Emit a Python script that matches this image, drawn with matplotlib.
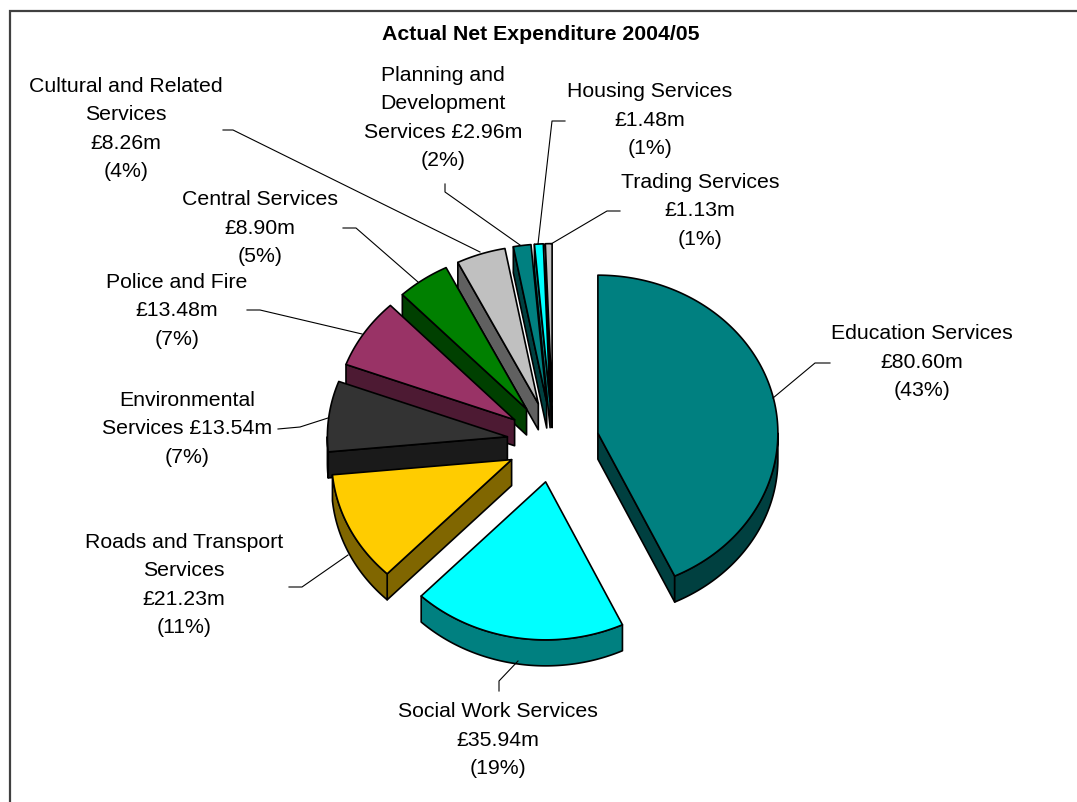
import numpy as np
import matplotlib
matplotlib.use('Agg')
import matplotlib.pyplot as plt
from matplotlib.patches import Polygon

plt.rcParams['font.family'] = ['Liberation Sans', 'DejaVu Sans']

title = 'Actual Net Expenditure 2004/05'

# Slices run clockwise from twelve o'clock
categories = ['Education Services', 'Social Work Services', 'Roads and Transport\nServices',
              'Environmental\nServices', 'Police and Fire', 'Central Services',
              'Cultural and Related\nServices', 'Planning and\nDevelopment\nServices',
              'Housing Services', 'Trading Services']
values = [80.60, 35.94, 21.23, 13.54, 13.48, 8.90, 8.26, 2.96, 1.48, 1.13]
inline_amount = [False, False, False, True, False, False, False, True, False, False]

top_colours = ['#008080', '#00FFFF', '#FFCC00', '#333333', '#993366',
               '#008000', '#C0C0C0', '#008080', '#00FFFF', '#C0C0C0']
side_colours = ['#004040', '#008080', '#806600', '#1A1A1A', '#4D1A33',
                '#004000', '#606060', '#004040', '#008080', '#606060']

# Label centres and leader lines, in pixels
label_pos = [(922, 362), (498, 740), (184, 585), (187, 429), (177, 311),
             (260, 228), (126, 129), (443, 118), (650, 120), (700, 211)]
leaders = [[(773, 398), (815, 363), (830, 363)],
           [(518, 661), (499, 681), (499, 691)],
           [(348, 555), (302, 587), (289, 587)],
           [(328, 418), (300, 427), (278, 429)],
           [(362, 334), (260, 310), (247, 310)],
           [(418, 282), (356, 228), (343, 228)],
           [(480, 252), (233, 130), (223, 130)],
           [(520, 245), (445, 192), (445, 184)],
           [(538, 244), (552, 121), (565, 121)],
           [(551, 244), (607, 211), (620, 211)]]

centre_x, centre_y = 553, 442
radius_x, radius_y = 180, 158
explode = 46
depth = 26


def rim_points(x0, y0, a, b):
    '''Outer edge of a slice between two angles in degrees'''
    t = np.radians(np.linspace(a, b, max(int(abs(b - a) * 2), 2)))
    return np.column_stack([x0 + radius_x * np.sin(t), y0 - radius_y * np.cos(t)])


def draw_slice(ax, start, end, top, side):
    mid = np.radians((start + end) / 2)
    x0 = centre_x + explode * np.sin(mid)
    y0 = centre_y - explode * np.cos(mid) * radius_y / radius_x
    drop = np.array([0, depth])
    style = dict(edgecolor='black', linewidth=1.2, joinstyle='round')

    # cut faces that look towards the viewer
    for angle, visible in ((start, np.sin(np.radians(start)) < -1e-6),
                           (end, np.sin(np.radians(end)) > 1e-6)):
        if visible:
            outer = rim_points(x0, y0, angle, angle + 0.1)[0]
            apex = np.array([x0, y0])
            ax.add_patch(Polygon([apex, outer, outer + drop, apex + drop], facecolor=side, **style))

    # the part of the rim on the near side
    a, b = max(start, 90), min(end, 270)
    if a < b:
        edge = rim_points(x0, y0, a, b)
        ax.add_patch(Polygon(np.vstack([edge, (edge + drop)[::-1]]), facecolor=side, **style))

    ax.add_patch(Polygon(np.vstack([[x0, y0], rim_points(x0, y0, start, end)]), facecolor=top, **style))


fig = plt.figure(figsize=(10.77, 8.02), dpi=100)
ax = fig.add_axes([0, 0, 1, 1])
ax.set_xlim(0, 1077)
ax.set_ylim(802, 0)
ax.axis('off')

# Chart area border, only the top and left edges are in frame
ax.plot([10, 10, 1077], [802, 11, 11], color='#404040', linewidth=1.6, solid_joinstyle='miter')

total = sum(values)
edges = np.concatenate([[0], np.cumsum(values)]) / total * 360

# Paint the slices from the back to the front
mids = np.radians((edges[:-1] + edges[1:]) / 2)
for i in sorted(range(len(values)), key=lambda k: -np.cos(mids[k])):
    draw_slice(ax, edges[i], edges[i + 1], top_colours[i], side_colours[i])

for i, name in enumerate(categories):
    xs, ys = zip(*leaders[i])
    ax.plot(xs, ys, color='black', linewidth=0.8)
    sep = ' ' if inline_amount[i] else '\n'
    pct = round(values[i] / total * 100)
    label = f'{name}{sep}£{values[i]:.2f}m\n({pct}%)'
    ax.text(label_pos[i][0], label_pos[i][1], label, ha='center', va='center',
            fontsize=15.3, linespacing=1.63, color='black')

ax.text(541, 34, title, ha='center', va='center', fontsize=15.3, fontweight='bold')

fig.savefig('out.png', dpi=100)
